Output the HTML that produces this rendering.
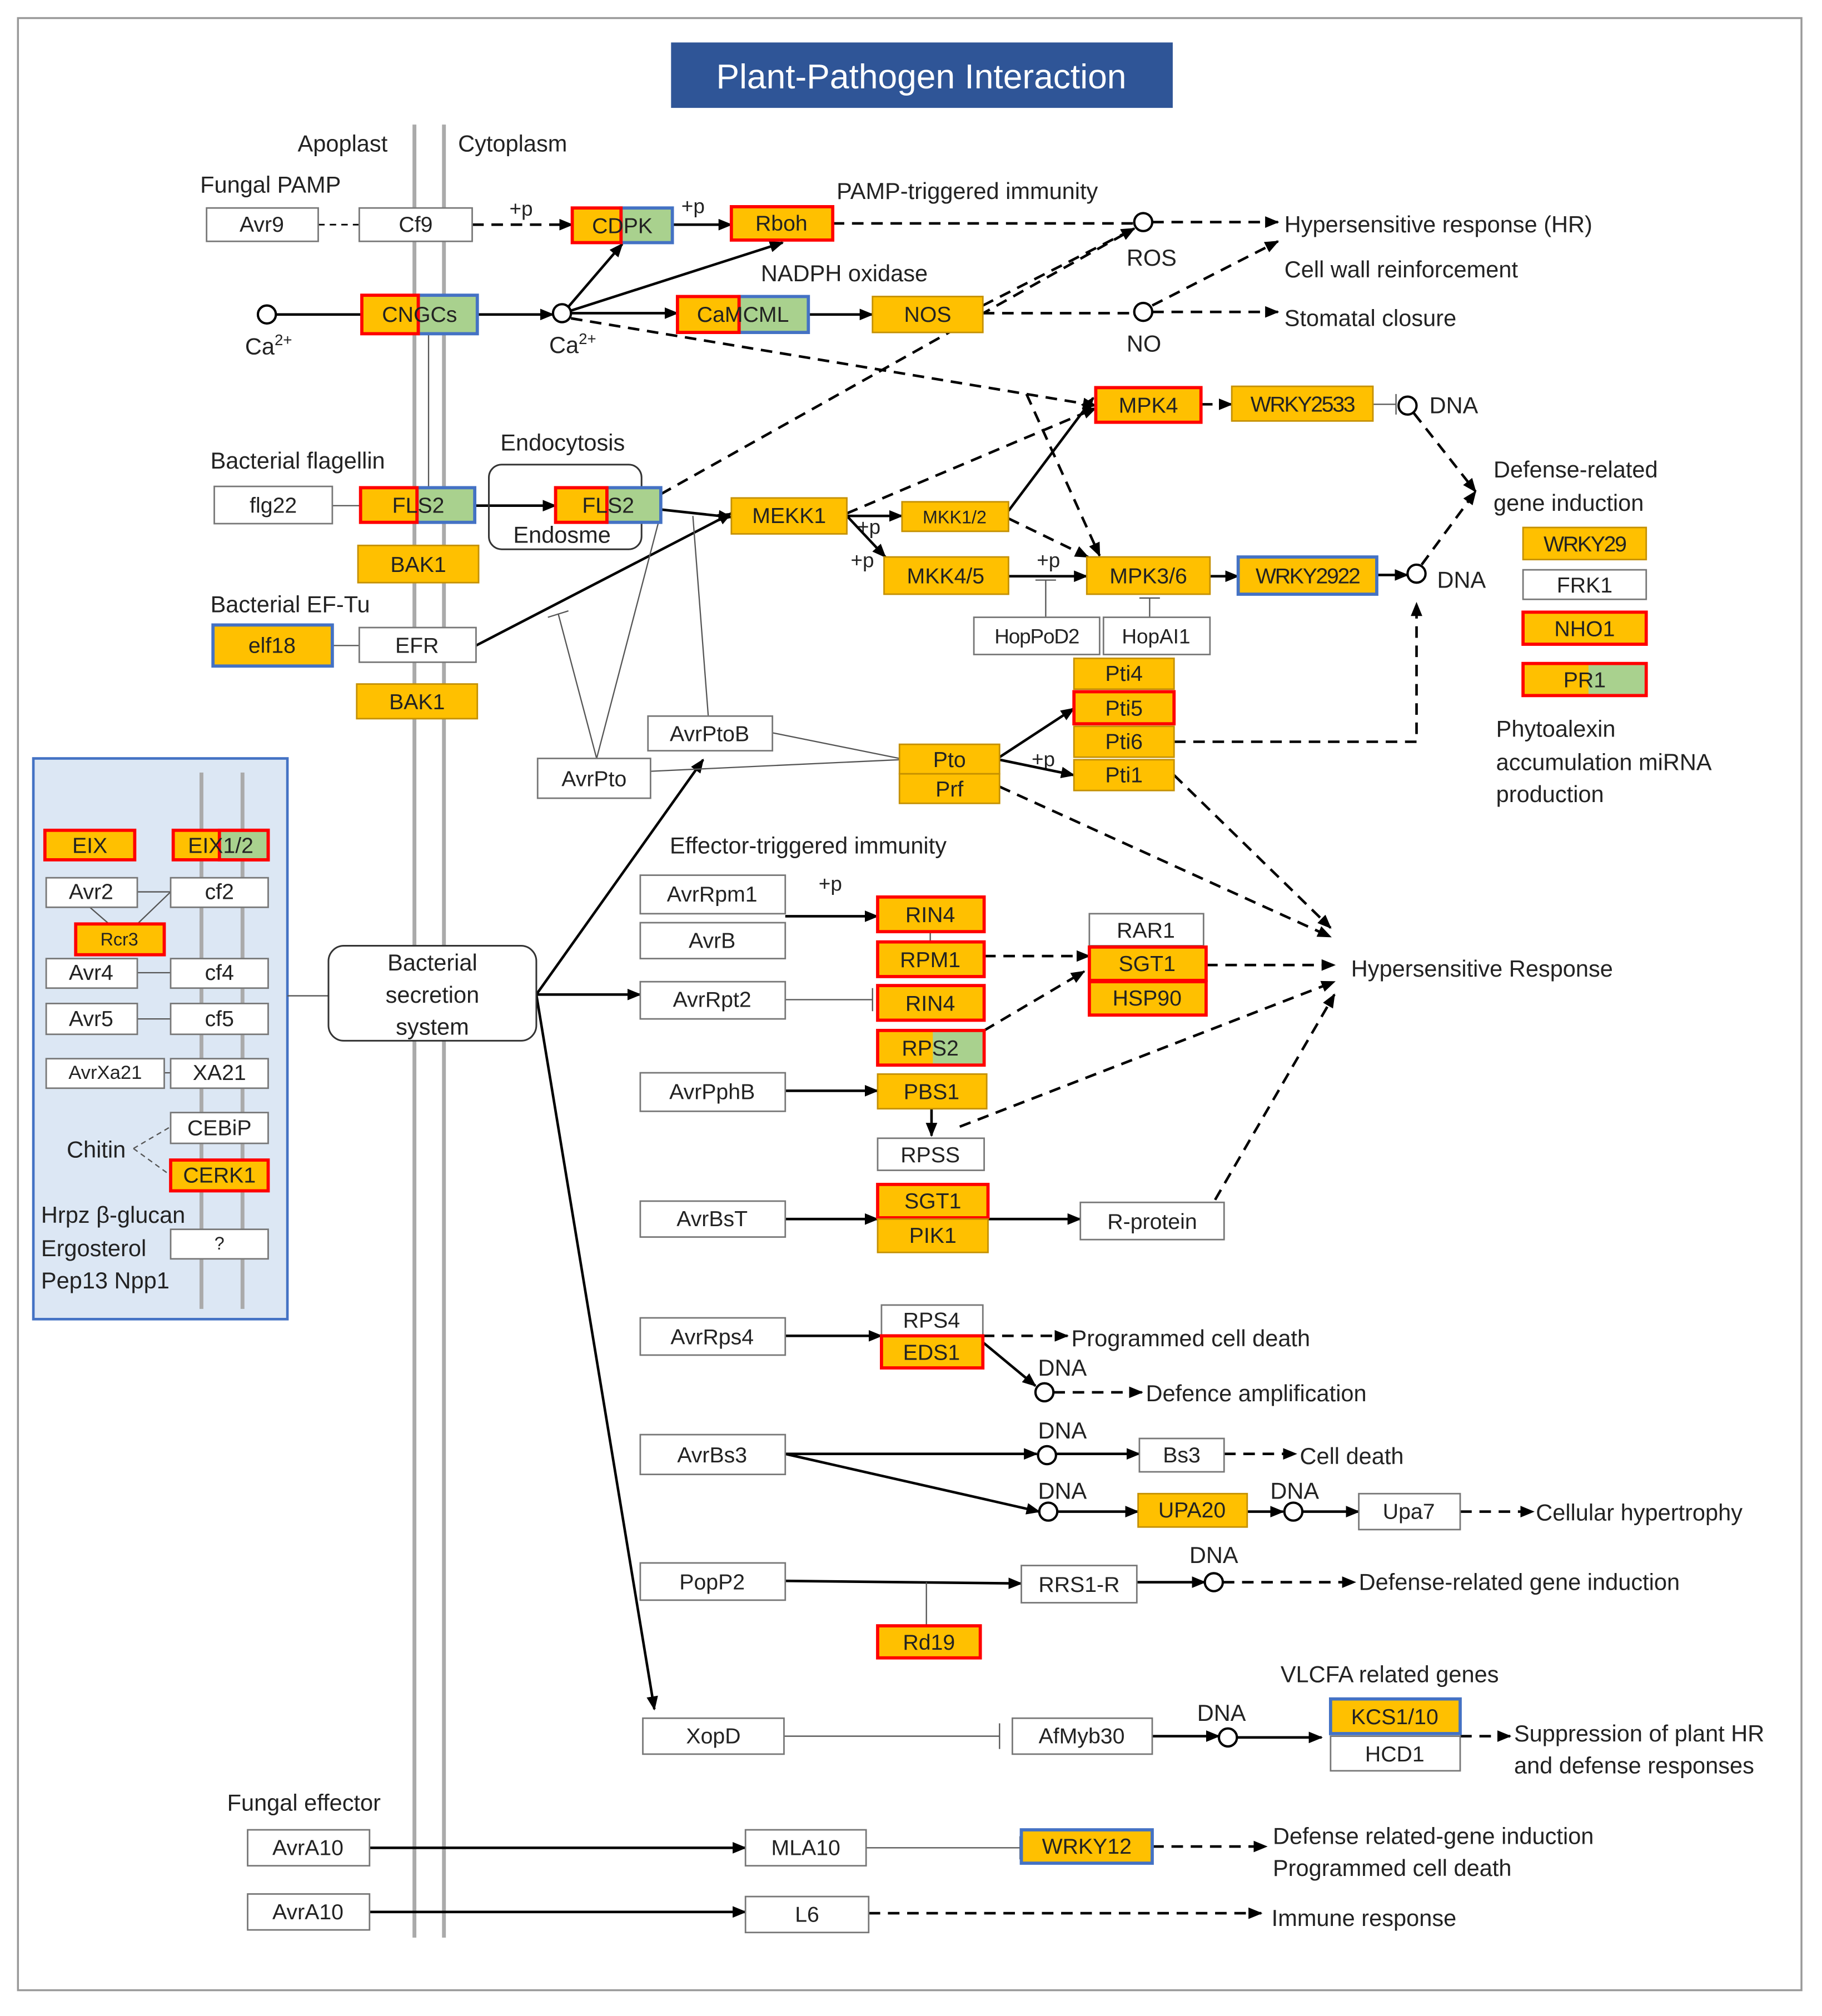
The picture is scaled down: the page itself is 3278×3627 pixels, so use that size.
<!DOCTYPE html>
<html><head><meta charset="utf-8"><style>
html,body{margin:0;padding:0;background:#fff}
svg{display:block}
text{font-family:"Liberation Sans",sans-serif;fill:#222}
.b{font-size:17px;text-anchor:middle;dominant-baseline:central}
.s{font-size:14px;text-anchor:middle;dominant-baseline:central}
.l{font-size:18px}
.w{fill:#fff;stroke:#777;stroke-width:1.2}
.o{fill:#FFC000;stroke:#C49000;stroke-width:1.2}
.r{fill:#FFC000;stroke:#F00;stroke-width:2.5}
.rn{fill:none;stroke:#F00;stroke-width:2.5}
.g{fill:#A9D18E;stroke:#4472C4;stroke-width:2.5}
.ob{fill:#FFC000;stroke:#4472C4;stroke-width:2.5}
.ln{stroke:#000;stroke-width:2;fill:none}
.th{stroke:#555;stroke-width:1;fill:none}
.d{stroke:#000;stroke-width:2;fill:none;stroke-dasharray:9,6}
.c{fill:#fff;stroke:#000;stroke-width:1.8}
</style></head><body>
<svg width="3278" height="3627" viewBox="0 0 1420 1571" xmlns="http://www.w3.org/2000/svg">
<defs><marker id="a" markerWidth="11" markerHeight="9" refX="10" refY="4.5" orient="auto" markerUnits="userSpaceOnUse"><path d="M0,0L11,4.5L0,9z" fill="#000"/></marker></defs>
<rect x="14" y="14" width="1390" height="1537" fill="#fff" stroke="#999" stroke-width="1.5"/>
<rect x="523" y="33" width="391" height="51" fill="#2F5597"/>
<text x="718" y="60" style="font-size:27px;fill:#fff;text-anchor:middle;dominant-baseline:central">Plant-Pathogen Interaction</text>
<line x1="323" y1="97" x2="323" y2="1510" stroke="#aaa" stroke-width="3"/>
<line x1="346" y1="97" x2="346" y2="1510" stroke="#aaa" stroke-width="3"/>
<!-- left panel -->
<rect x="26" y="591" width="198" height="437" fill="#DCE7F4" stroke="#4472C4" stroke-width="2"/>
<line x1="157" y1="602" x2="157" y2="1020" stroke="#aaa" stroke-width="3"/>
<line x1="189" y1="602" x2="189" y2="1020" stroke="#aaa" stroke-width="3"/>
<g class="l">
<text x="232" y="118">Apoplast</text><text x="357" y="118">Cytoplasm</text>
<text x="156" y="150">Fungal PAMP</text>
<text x="652" y="155">PAMP-triggered immunity</text>
<text x="593" y="219">NADPH oxidase</text>
<text x="1001" y="181">Hypersensitive response (HR)</text>
<text x="1001" y="216">Cell wall reinforcement</text>
<text x="1001" y="254">Stomatal closure</text>
<text x="878" y="207">ROS</text><text x="878" y="274">NO</text>
<text x="1114" y="322">DNA</text><text x="1120" y="458">DNA</text>
<text x="1164" y="372">Defense-related</text><text x="1164" y="398">gene induction</text>
<text x="1166" y="574">Phytoalexin</text><text x="1166" y="600">accumulation miRNA</text><text x="1166" y="625">production</text>
<text x="390" y="351">Endocytosis</text><text x="400" y="423">Endosme</text>
<text x="164" y="365">Bacterial flagellin</text><text x="164" y="477">Bacterial EF-Tu</text>
<text x="522" y="665">Effector-triggered immunity</text>
<text x="1053" y="761">Hypersensitive Response</text>
<text x="835" y="1049">Programmed cell death</text>
<text x="893" y="1092">Defence amplification</text>
<text x="1013" y="1141">Cell death</text>
<text x="1197" y="1185">Cellular hypertrophy</text>
<text x="1059" y="1239">Defense-related gene induction</text>
<text x="998" y="1311">VLCFA related genes</text>
<text x="1180" y="1357">Suppression of plant HR</text><text x="1180" y="1382">and defense responses</text>
<text x="177" y="1411">Fungal effector</text>
<text x="992" y="1437">Defense related-gene induction</text><text x="992" y="1462">Programmed cell death</text>
<text x="991" y="1501">Immune response</text>
<text x="52" y="902">Chitin</text>
<text x="32" y="953">Hrpz β-glucan</text><text x="32" y="979">Ergosterol</text><text x="32" y="1004">Pep13 Npp1</text>
<text x="809" y="1072">DNA</text><text x="809" y="1121">DNA</text><text x="809" y="1168">DNA</text><text x="990" y="1168">DNA</text><text x="927" y="1218">DNA</text><text x="933" y="1341">DNA</text>
<text x="191" y="276">Ca<tspan font-size="12" dy="-7">2+</tspan></text>
<text x="428" y="275">Ca<tspan font-size="12" dy="-7">2+</tspan></text>
<text x="397" y="168" font-size="16">+p</text><text x="531" y="166" font-size="16">+p</text>
<text x="668" y="416" font-size="16">+p</text><text x="663" y="442" font-size="16">+p</text>
<text x="808" y="442" font-size="16">+p</text><text x="804" y="597" font-size="16">+p</text>
<text x="638" y="694" font-size="16">+p</text>
</g>
<!-- connectors -->
<g class="ln">
<line x1="215" y1="245" x2="282" y2="245"/>
<line x1="372" y1="245" x2="431" y2="245" marker-end="url(#a)"/>
<line x1="524" y1="175" x2="570" y2="175" marker-end="url(#a)"/>
<line x1="443" y1="239" x2="485" y2="190" marker-end="url(#a)"/>
<line x1="445" y1="242" x2="610" y2="189" marker-end="url(#a)"/>
<line x1="445" y1="244" x2="528" y2="244" marker-end="url(#a)"/>
<line x1="630" y1="245" x2="680" y2="245" marker-end="url(#a)"/>
<line x1="1073" y1="448" x2="1097" y2="448" marker-end="url(#a)"/>
<line x1="370" y1="394" x2="433" y2="394" marker-end="url(#a)"/>
<line x1="515" y1="397" x2="570" y2="403" marker-end="url(#a)"/>
<line x1="371" y1="503" x2="570" y2="400" marker-end="url(#a)"/>
<line x1="660" y1="402" x2="703" y2="402" marker-end="url(#a)"/>
<line x1="660" y1="402" x2="690" y2="434" marker-end="url(#a)"/>
<line x1="786" y1="398" x2="852" y2="310" marker-end="url(#a)"/>
<line x1="786" y1="449" x2="847" y2="449" marker-end="url(#a)"/>
<line x1="943" y1="449" x2="965" y2="449" marker-end="url(#a)"/>
<line x1="779" y1="590" x2="837" y2="552" marker-end="url(#a)"/>
<line x1="779" y1="592" x2="837" y2="604" marker-end="url(#a)"/>
<line x1="418" y1="775" x2="548" y2="592" marker-end="url(#a)"/>
<line x1="418" y1="775" x2="499" y2="775" marker-end="url(#a)"/>
<line x1="418" y1="775" x2="510" y2="1332" marker-end="url(#a)"/>
<line x1="612" y1="714" x2="684" y2="714" marker-end="url(#a)"/>
<line x1="612" y1="850" x2="684" y2="850" marker-end="url(#a)"/>
<line x1="726" y1="864" x2="726" y2="885" marker-end="url(#a)"/>
<line x1="612" y1="950" x2="684" y2="950" marker-end="url(#a)"/>
<line x1="770" y1="950" x2="842" y2="950" marker-end="url(#a)"/>
<line x1="612" y1="1041" x2="687" y2="1041" marker-end="url(#a)"/>
<line x1="766" y1="1046" x2="807" y2="1080" marker-end="url(#a)"/>
<line x1="612" y1="1133" x2="808" y2="1133" marker-end="url(#a)"/>
<line x1="823" y1="1133" x2="888" y2="1133" marker-end="url(#a)"/>
<line x1="612" y1="1133" x2="810" y2="1178" marker-end="url(#a)"/>
<line x1="824" y1="1178" x2="887" y2="1178" marker-end="url(#a)"/>
<line x1="972" y1="1178" x2="1000" y2="1178" marker-end="url(#a)"/>
<line x1="1015" y1="1178" x2="1059" y2="1178" marker-end="url(#a)"/>
<line x1="612" y1="1232" x2="796" y2="1234" marker-end="url(#a)"/>
<line x1="886" y1="1233" x2="939" y2="1233" marker-end="url(#a)"/>
<line x1="898" y1="1353" x2="950" y2="1353" marker-end="url(#a)"/>
<line x1="964" y1="1354" x2="1030" y2="1354" marker-end="url(#a)"/>
<line x1="288" y1="1440" x2="581" y2="1440" marker-end="url(#a)"/>
<line x1="288" y1="1490" x2="581" y2="1490" marker-end="url(#a)"/>
</g>
<g class="th">
<line x1="259" y1="394" x2="281" y2="394"/>
<line x1="259" y1="503" x2="280" y2="503"/>
<line x1="334" y1="260" x2="334" y2="380"/>
<line x1="1070" y1="315" x2="1088" y2="315"/><line x1="1088" y1="307" x2="1088" y2="323"/>
<line x1="815" y1="481" x2="815" y2="452"/><line x1="807" y1="452" x2="823" y2="452"/>
<line x1="896" y1="481" x2="896" y2="466"/><line x1="888" y1="466" x2="904" y2="466"/>
<polyline points="435,478 465,591 515,400"/><line x1="427" y1="481" x2="443" y2="476"/>
<line x1="552" y1="558" x2="540" y2="402"/>
<line x1="602" y1="571" x2="701" y2="591"/>
<line x1="507" y1="601" x2="701" y2="592"/>
<line x1="224" y1="776" x2="256" y2="776"/>
<line x1="725" y1="726" x2="725" y2="734"/>
<line x1="612" y1="779" x2="680" y2="779"/><line x1="680" y1="770" x2="680" y2="788"/>
<line x1="722" y1="1267" x2="722" y2="1233"/>
<line x1="611" y1="1353" x2="779" y2="1353"/><line x1="779" y1="1343" x2="779" y2="1363"/>
<line x1="675" y1="1440" x2="795" y2="1440"/><line x1="795" y1="1431" x2="795" y2="1449"/>
<line x1="107" y1="695" x2="133" y2="695"/>
<line x1="70" y1="707" x2="85" y2="720"/><line x1="107" y1="720" x2="133" y2="695"/>
<line x1="107" y1="758" x2="133" y2="758"/>
<line x1="107" y1="794" x2="133" y2="794"/>
<line x1="128" y1="836" x2="133" y2="836"/>
<line x1="104" y1="895" x2="133" y2="878" stroke-dasharray="4,3"/>
<line x1="104" y1="895" x2="133" y2="916" stroke-dasharray="4,3"/>
</g>
<g class="d">
<line x1="248" y1="175" x2="280" y2="175" stroke-width="1.2" stroke-dasharray="5,4"/>
<line x1="368" y1="175" x2="446" y2="175" marker-end="url(#a)"/>
<line x1="649" y1="174" x2="884" y2="174"/>
<line x1="898" y1="173" x2="996" y2="173" marker-end="url(#a)"/>
<line x1="766" y1="244" x2="884" y2="244"/>
<line x1="898" y1="243" x2="996" y2="243" marker-end="url(#a)"/>
<line x1="898" y1="238" x2="996" y2="188" marker-end="url(#a)"/>
<line x1="766" y1="238" x2="884" y2="178" marker-end="url(#a)"/>
<line x1="445" y1="248" x2="854" y2="316" marker-end="url(#a)"/>
<line x1="936" y1="315" x2="960" y2="315" marker-end="url(#a)"/>
<line x1="1102" y1="322" x2="1150" y2="383" marker-end="url(#a)"/>
<line x1="1108" y1="440" x2="1150" y2="383" marker-end="url(#a)"/>
<polyline points="915,578 1104,578 1104,470" marker-end="url(#a)"/>
<line x1="515" y1="385" x2="884" y2="178" marker-end="url(#a)"/>
<line x1="660" y1="400" x2="854" y2="318" marker-end="url(#a)"/>
<line x1="786" y1="404" x2="848" y2="434" marker-end="url(#a)"/>
<line x1="800" y1="307" x2="857" y2="433" marker-end="url(#a)"/>
<line x1="779" y1="613" x2="1037" y2="730" marker-end="url(#a)"/>
<line x1="915" y1="604" x2="1037" y2="723" marker-end="url(#a)"/>
<line x1="767" y1="745" x2="849" y2="745" marker-end="url(#a)"/>
<line x1="767" y1="803" x2="845" y2="757" marker-end="url(#a)"/>
<line x1="748" y1="878" x2="1040" y2="765" marker-end="url(#a)"/>
<line x1="940" y1="752" x2="1040" y2="752" marker-end="url(#a)"/>
<line x1="947" y1="935" x2="1040" y2="775" marker-end="url(#a)"/>
<line x1="766" y1="1041" x2="832" y2="1041" marker-end="url(#a)"/>
<line x1="821" y1="1085" x2="890" y2="1085" marker-end="url(#a)"/>
<line x1="954" y1="1133" x2="1010" y2="1133" marker-end="url(#a)"/>
<line x1="1138" y1="1178" x2="1195" y2="1178" marker-end="url(#a)"/>
<line x1="953" y1="1233" x2="1056" y2="1233" marker-end="url(#a)"/>
<line x1="1138" y1="1353" x2="1177" y2="1353" marker-end="url(#a)"/>
<line x1="898" y1="1439" x2="987" y2="1439" marker-end="url(#a)"/>
<line x1="677" y1="1491" x2="983" y2="1491" marker-end="url(#a)"/>
</g>
<!-- circles -->
<g class="c">
<circle cx="208" cy="245" r="7"/><circle cx="438" cy="244" r="7"/><circle cx="891" cy="173" r="7"/><circle cx="891" cy="243" r="7"/>
<circle cx="1097" cy="316" r="7"/><circle cx="1104" cy="447" r="7"/><circle cx="814" cy="1085" r="7"/><circle cx="816" cy="1134" r="7"/>
<circle cx="817" cy="1178" r="7"/><circle cx="1008" cy="1178" r="7"/><circle cx="946" cy="1233" r="7"/><circle cx="957" cy="1354" r="7"/>
</g>
<!-- rounded boxes -->
<rect x="381" y="362" width="119" height="66" rx="10" fill="none" stroke="#333" stroke-width="1.3"/>
<rect x="256" y="737" width="162" height="74" rx="12" fill="#fff" stroke="#333" stroke-width="1.3"/>
<text class="b" x="337" y="750" style="font-size:18px">Bacterial</text>
<text class="b" x="337" y="775" style="font-size:18px">secretion</text>
<text class="b" x="337" y="800" style="font-size:18px">system</text>
<!-- split boxes -->
<rect class="o" x="446" y="162" width="78" height="27"/><rect class="g" x="484" y="162" width="40" height="27"/><rect class="rn" x="446" y="162" width="38" height="27"/><text class="b" x="485" y="176">CDPK</text>
<rect class="o" x="282" y="230" width="90" height="30"/><rect class="g" x="326" y="230" width="46" height="30"/><rect class="rn" x="282" y="230" width="44" height="30"/><text class="b" x="327" y="245">CNGCs</text>
<rect class="o" x="528" y="231" width="102" height="28"/><rect class="g" x="576" y="231" width="54" height="28"/><rect class="rn" x="528" y="231" width="48" height="28"/><text class="b" x="579" y="245">CaMCML</text>
<rect class="o" x="281" y="380" width="89" height="27"/><rect class="g" x="325" y="380" width="45" height="27"/><rect class="rn" x="281" y="380" width="44" height="27"/><text class="b" x="326" y="394">FLS2</text>
<rect class="o" x="433" y="380" width="82" height="27"/><rect class="g" x="473" y="380" width="42" height="27"/><rect class="rn" x="433" y="380" width="40" height="27"/><text class="b" x="474" y="394">FLS2</text>
<rect class="o" x="1187" y="517" width="96" height="25"/><rect x="1238" y="517" width="45" height="25" fill="#A9D18E"/><rect class="rn" x="1187" y="517" width="96" height="25"/><text class="b" x="1235" y="530">PR1</text>
<rect class="o" x="684" y="803" width="83" height="27"/><rect x="727" y="803" width="40" height="27" fill="#A9D18E"/><rect class="rn" x="684" y="803" width="83" height="27"/><text class="b" x="725" y="817">RPS2</text>
<rect class="o" x="135" y="647" width="74" height="23"/><rect x="171" y="647" width="38" height="23" fill="#A9D18E"/><rect class="rn" x="135" y="647" width="74" height="23"/><rect class="rn" x="171" y="647" width="38" height="23"/><text class="b" x="172" y="659">EIX1/2</text>
<!-- plain boxes -->
<rect class="w" x="161" y="162" width="87" height="26"/><text class="b" x="204" y="175">Avr9</text>
<rect class="w" x="280" y="162" width="88" height="26"/><text class="b" x="324" y="175">Cf9</text>
<rect class="r" x="570" y="161" width="79" height="26"/><text class="b" x="609" y="174">Rboh</text>
<rect class="o" x="680" y="231" width="86" height="28"/><text class="b" x="723" y="245">NOS</text>
<rect class="r" x="854" y="302" width="82" height="27"/><text class="b" x="895" y="316">MPK4</text>
<rect class="o" x="960" y="301" width="110" height="27"/><text class="b" x="1015" y="315" style="letter-spacing:-1px">WRKY2533</text>
<rect class="w" x="167" y="379" width="92" height="29"/><text class="b" x="213" y="394">flg22</text>
<rect class="o" x="279" y="425" width="94" height="29"/><text class="b" x="326" y="440">BAK1</text>
<rect class="o" x="570" y="388" width="90" height="28"/><text class="b" x="615" y="402">MEKK1</text>
<rect class="o" x="703" y="391" width="83" height="23"/><text class="s" x="744" y="403">MKK1/2</text>
<rect class="o" x="689" y="434" width="97" height="29"/><text class="b" x="737" y="449">MKK4/5</text>
<rect class="o" x="847" y="434" width="96" height="29"/><text class="b" x="895" y="449">MPK3/6</text>
<rect class="ob" x="965" y="434" width="108" height="29"/><text class="b" x="1019" y="449" style="letter-spacing:-1px">WRKY2922</text>
<rect class="w" x="759" y="481" width="98" height="29"/><text class="b" x="808" y="496" style="font-size:16px;letter-spacing:-0.5px">HopPoD2</text>
<rect class="w" x="860" y="481" width="83" height="29"/><text class="b" x="901" y="496" style="font-size:16px">HopAI1</text>
<rect class="ob" x="166" y="487" width="93" height="32"/><text class="b" x="212" y="503">elf18</text>
<rect class="w" x="280" y="489" width="91" height="27"/><text class="b" x="325" y="503">EFR</text>
<rect class="o" x="278" y="533" width="94" height="27"/><text class="b" x="325" y="547">BAK1</text>
<rect class="o" x="837" y="513" width="78" height="24"/><text class="b" x="876" y="525">Pti4</text>
<rect class="r" x="837" y="539" width="78" height="25"/><text class="b" x="876" y="552">Pti5</text>
<rect class="o" x="837" y="566" width="78" height="24"/><text class="b" x="876" y="578">Pti6</text>
<rect class="o" x="837" y="592" width="78" height="24"/><text class="b" x="876" y="604">Pti1</text>
<rect class="w" x="505" y="558" width="97" height="27"/><text class="b" x="553" y="572">AvrPtoB</text>
<rect class="w" x="419" y="591" width="88" height="31"/><text class="b" x="463" y="607">AvrPto</text>
<rect class="o" x="701" y="580" width="78" height="23"/><text class="b" x="740" y="592">Pto</text>
<rect class="o" x="701" y="603" width="78" height="23"/><text class="b" x="740" y="615">Prf</text>
<rect class="o" x="1187" y="411" width="96" height="25"/><text class="b" x="1235" y="424" style="letter-spacing:-1px">WRKY29</text>
<rect class="w" x="1187" y="444" width="96" height="23"/><text class="b" x="1235" y="456">FRK1</text>
<rect class="r" x="1187" y="477" width="96" height="25"/><text class="b" x="1235" y="490">NHO1</text>
<rect class="r" x="35" y="647" width="70" height="23"/><text class="b" x="70" y="659">EIX</text>
<rect class="w" x="36" y="684" width="71" height="23"/><text class="b" x="71" y="695">Avr2</text>
<rect class="w" x="133" y="684" width="76" height="23"/><text class="b" x="171" y="695">cf2</text>
<rect class="r" x="59" y="720" width="69" height="24"/><text class="s" x="93" y="732">Rcr3</text>
<rect class="w" x="36" y="747" width="71" height="23"/><text class="b" x="71" y="758">Avr4</text>
<rect class="w" x="133" y="747" width="76" height="23"/><text class="b" x="171" y="758">cf4</text>
<rect class="w" x="36" y="782" width="71" height="24"/><text class="b" x="71" y="794">Avr5</text>
<rect class="w" x="133" y="782" width="76" height="24"/><text class="b" x="171" y="794">cf5</text>
<rect class="w" x="36" y="825" width="92" height="23"/><text class="b" x="82" y="836" style="font-size:15px">AvrXa21</text>
<rect class="w" x="133" y="825" width="76" height="23"/><text class="b" x="171" y="836">XA21</text>
<rect class="w" x="133" y="867" width="76" height="24"/><text class="b" x="171" y="879">CEBiP</text>
<rect class="r" x="133" y="904" width="76" height="24"/><text class="b" x="171" y="916">CERK1</text>
<rect class="w" x="133" y="958" width="76" height="23"/><text class="b" x="171" y="969" style="font-size:14px">?</text>
<rect class="w" x="499" y="682" width="113" height="30"/><text class="b" x="555" y="697">AvrRpm1</text>
<rect class="w" x="499" y="719" width="113" height="28"/><text class="b" x="555" y="733">AvrB</text>
<rect class="w" x="499" y="765" width="113" height="29"/><text class="b" x="555" y="779">AvrRpt2</text>
<rect class="w" x="499" y="836" width="113" height="30"/><text class="b" x="555" y="851">AvrPphB</text>
<rect class="w" x="499" y="936" width="113" height="28"/><text class="b" x="555" y="950">AvrBsT</text>
<rect class="w" x="499" y="1027" width="113" height="29"/><text class="b" x="555" y="1042">AvrRps4</text>
<rect class="w" x="499" y="1118" width="113" height="31"/><text class="b" x="555" y="1134">AvrBs3</text>
<rect class="w" x="499" y="1218" width="113" height="29"/><text class="b" x="555" y="1233">PopP2</text>
<rect class="w" x="501" y="1339" width="110" height="28"/><text class="b" x="556" y="1353">XopD</text>
<rect class="r" x="684" y="699" width="83" height="27"/><text class="b" x="725" y="713">RIN4</text>
<rect class="r" x="684" y="734" width="83" height="27"/><text class="b" x="725" y="748">RPM1</text>
<rect class="r" x="684" y="768" width="83" height="27"/><text class="b" x="725" y="782">RIN4</text>
<rect class="o" x="684" y="837" width="85" height="27"/><text class="b" x="726" y="851">PBS1</text>
<rect class="w" x="684" y="887" width="83" height="25"/><text class="b" x="725" y="900">RPSS</text>
<rect class="w" x="849" y="712" width="89" height="25"/><text class="b" x="893" y="725">RAR1</text>
<rect class="r" x="849" y="738" width="91" height="26"/><text class="b" x="894" y="751">SGT1</text>
<rect class="r" x="849" y="765" width="91" height="26"/><text class="b" x="894" y="778">HSP90</text>
<rect class="r" x="684" y="923" width="86" height="26"/><text class="b" x="727" y="936">SGT1</text>
<rect class="o" x="684" y="950" width="86" height="26"/><text class="b" x="727" y="963">PIK1</text>
<rect class="w" x="842" y="937" width="112" height="29"/><text class="b" x="898" y="952">R-protein</text>
<rect class="w" x="687" y="1017" width="79" height="24"/><text class="b" x="726" y="1029">RPS4</text>
<rect class="r" x="687" y="1041" width="79" height="25"/><text class="b" x="726" y="1054">EDS1</text>
<rect class="w" x="888" y="1121" width="66" height="26"/><text class="b" x="921" y="1134">Bs3</text>
<rect class="o" x="887" y="1164" width="85" height="26"/><text class="b" x="929" y="1177">UPA20</text>
<rect class="w" x="1059" y="1164" width="79" height="28"/><text class="b" x="1098" y="1178">Upa7</text>
<rect class="w" x="796" y="1220" width="90" height="29"/><text class="b" x="841" y="1235">RRS1-R</text>
<rect class="r" x="684" y="1267" width="80" height="25"/><text class="b" x="724" y="1280">Rd19</text>
<rect class="w" x="789" y="1339" width="109" height="28"/><text class="b" x="843" y="1353">AfMyb30</text>
<rect class="ob" x="1037" y="1324" width="101" height="27"/><text class="b" x="1087" y="1338">KCS1/10</text>
<rect class="w" x="1037" y="1353" width="101" height="27"/><text class="b" x="1087" y="1367">HCD1</text>
<rect class="w" x="193" y="1426" width="95" height="28"/><text class="b" x="240" y="1440">AvrA10</text>
<rect class="w" x="581" y="1426" width="94" height="28"/><text class="b" x="628" y="1440">MLA10</text>
<rect class="ob" x="796" y="1426" width="102" height="26"/><text class="b" x="847" y="1439">WRKY12</text>
<rect class="w" x="193" y="1476" width="95" height="28"/><text class="b" x="240" y="1490">AvrA10</text>
<rect class="w" x="581" y="1478" width="96" height="28"/><text class="b" x="629" y="1492">L6</text>
</svg>
</body></html>
